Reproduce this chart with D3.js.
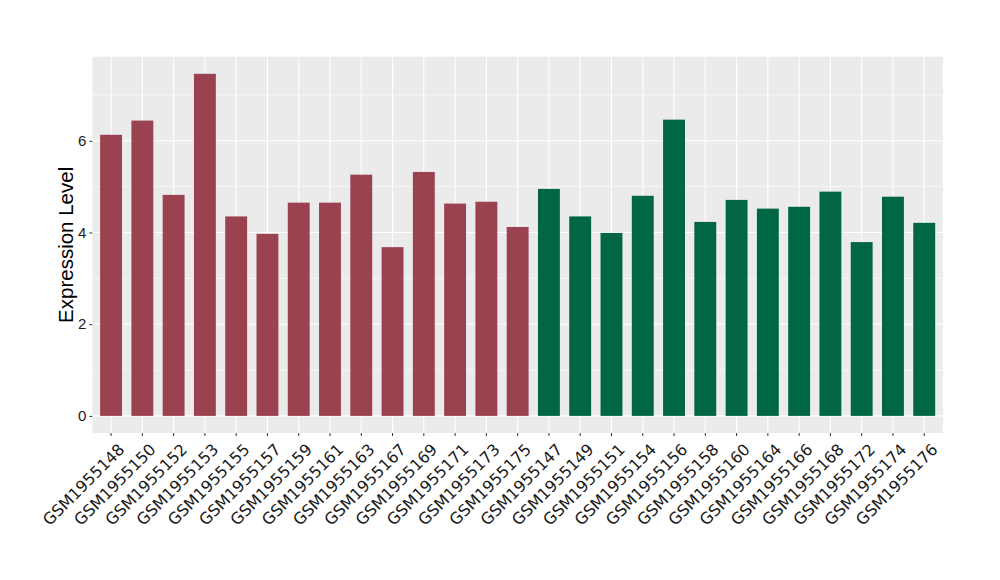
<!DOCTYPE html>
<html><head><meta charset="utf-8">
<script src="https://cdn.jsdelivr.net/npm/d3@7"></script>
<style>body{margin:0;background:#fff}</style>
</head><body>
<svg id="c" width="1000" height="580"></svg>
<script>
const samples = ["GSM1955148","GSM1955150","GSM1955152","GSM1955153","GSM1955155","GSM1955157","GSM1955159","GSM1955161","GSM1955163","GSM1955167","GSM1955169","GSM1955171","GSM1955173","GSM1955175","GSM1955147","GSM1955149","GSM1955151","GSM1955154","GSM1955156","GSM1955158","GSM1955160","GSM1955164","GSM1955166","GSM1955168","GSM1955172","GSM1955174","GSM1955176"];
const values = [6.13,6.44,4.82,7.46,4.35,3.97,4.65,4.65,5.26,3.68,5.32,4.63,4.67,4.12,4.95,4.35,3.99,4.80,6.46,4.23,4.71,4.52,4.56,4.89,3.79,4.78,4.21];
const groups = ["A","A","A","A","A","A","A","A","A","A","A","A","A","A","B","B","B","B","B","B","B","B","B","B","B","B","B"];
const groupColors = {A:"#9B4251", B:"#006644"};
const yTicks = [0,2,4,6];
const yMinor = [1,3,5,7];

const svg = d3.select("#c");
const L = 92.3, R = 943, T = 56.7, B = 433;
const ymax = d3.max(values), pad = ymax*0.05;
const y = d3.scaleLinear().domain([-pad, ymax+pad]).range([B, T]);
const x = d3.scaleBand().domain(samples).range([L, R]).paddingInner(0.3).paddingOuter(0.25);

svg.append("rect").attr("x",L).attr("y",T).attr("width",R-L).attr("height",B-T).attr("fill","#EBEBEB");
const g = svg.append("g");
g.selectAll(".ymin").data(yMinor).join("line").attr("x1",L).attr("x2",R)
 .attr("y1",d=>y(d)).attr("y2",d=>y(d)).attr("stroke","#fff").attr("stroke-width",0.6);
g.selectAll(".ymaj").data(yTicks).join("line").attr("x1",L).attr("x2",R)
 .attr("y1",d=>y(d)).attr("y2",d=>y(d)).attr("stroke","#fff").attr("stroke-width",1.1);
g.selectAll(".xmaj").data(samples).join("line").attr("y1",T).attr("y2",B)
 .attr("x1",d=>x(d)+x.bandwidth()/2).attr("x2",d=>x(d)+x.bandwidth()/2).attr("stroke","#fff").attr("stroke-width",1.1);

svg.selectAll(".bar").data(samples).join("rect")
 .attr("x",d=>x(d)).attr("width",x.bandwidth())
 .attr("y",(d,i)=>y(values[i])).attr("height",(d,i)=>y(0)-y(values[i]))
 .attr("fill",(d,i)=>groupColors[groups[i]]);

// y axis
const ya = svg.append("g").attr("transform",`translate(${L},0)`)
 .call(d3.axisLeft(y).tickValues(yTicks).tickSize(3).tickPadding(3).tickFormat(d3.format("d")));
ya.attr("font-family",null).attr("font-size",null);
ya.select(".domain").remove();
ya.selectAll("line").attr("stroke","#333");
ya.selectAll("text").attr("font-family","Liberation Sans, Arial, sans-serif").attr("font-size","15px").attr("fill","#1a1a1a");

// x axis
const xa = svg.append("g").attr("transform",`translate(0,${B})`)
 .call(d3.axisBottom(x).tickSize(3).tickPadding(3));
xa.attr("font-family",null).attr("font-size",null);
xa.select(".domain").remove();
xa.selectAll("line").attr("stroke","#333");
xa.selectAll("text").attr("font-family","DejaVu Sans").attr("font-size","16px").attr("fill","#1a1a1a")
 .attr("text-anchor","end").attr("dy",null).attr("y",null)
 .attr("transform","translate(6,9) rotate(-45)").attr("dominant-baseline","hanging");

svg.append("text").attr("transform",`translate(73,${(T+B)/2}) rotate(-90)`)
 .attr("text-anchor","middle").attr("font-family","Liberation Sans, Arial, sans-serif")
 .attr("font-size","20.5px").attr("fill","#000").text("Expression Level");
</script>
</body></html>
